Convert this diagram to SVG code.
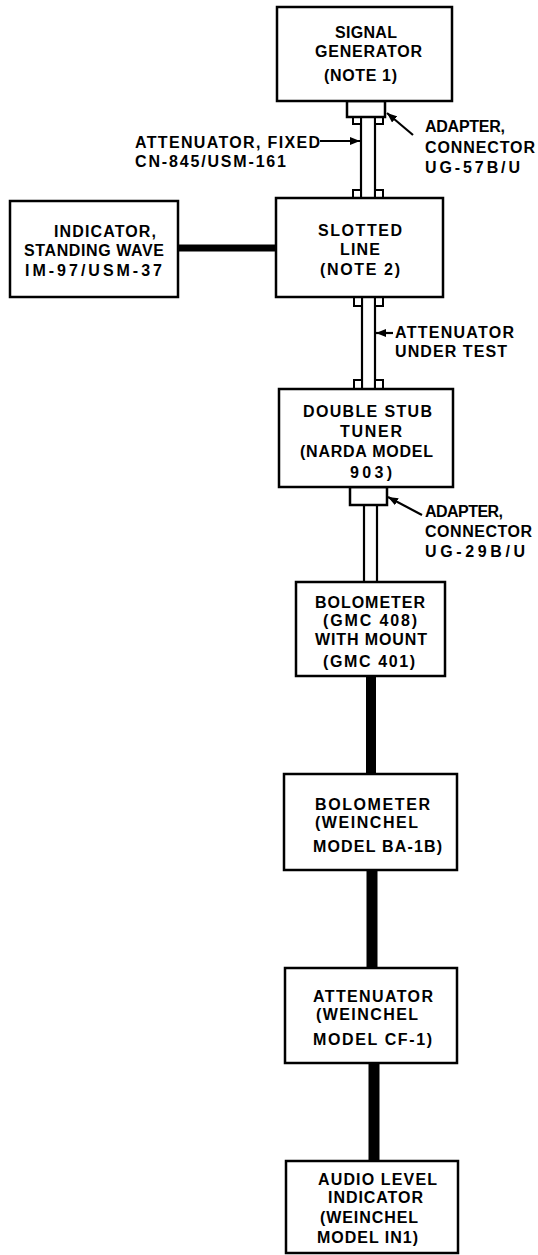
<svg xmlns="http://www.w3.org/2000/svg" width="538" height="1255" viewBox="0 0 538 1255">
<style>
.box{fill:#fff;stroke:#000;stroke-width:2.5}
.t{font-family:"Liberation Sans",Arial,sans-serif;font-weight:bold;font-size:16px;fill:#000}
.thick{stroke:#000;fill:none}
.thin{stroke:#000;stroke-width:2.2;fill:none}
.fl{fill:#fff;stroke:#000;stroke-width:2}
</style>
<defs>
<marker id="ah" markerUnits="userSpaceOnUse" markerWidth="10" markerHeight="8" refX="10" refY="4" orient="auto">
<path d="M0,0 L10,4 L0,8 z" fill="#000"/>
</marker>
</defs>
<rect width="538" height="1255" fill="#fff"/>

<g id="connectors">
<line class="thick" x1="178" y1="248" x2="276" y2="248" stroke-width="7"/>
<line class="thick" x1="371" y1="676" x2="371" y2="774" stroke-width="10"/>
<line class="thick" x1="372" y1="870" x2="372" y2="968" stroke-width="11"/>
<line class="thick" x1="374" y1="1063" x2="374" y2="1161" stroke-width="11"/>
<!-- coax: signal generator to slotted line -->
<line class="thin" x1="361" y1="117" x2="361" y2="198"/>
<line class="thin" x1="375" y1="117" x2="375" y2="198"/>
<rect class="fl" x="353" y="117" width="8" height="7"/>
<rect class="fl" x="375" y="117" width="8" height="7"/>
<rect class="fl" x="353" y="190" width="8" height="8"/>
<rect class="fl" x="375" y="190" width="8" height="8"/>
<rect class="box" x="347" y="101" width="38" height="16"/>
<!-- coax: slotted line to stub tuner (attenuator under test) -->
<line class="thin" x1="362" y1="297" x2="362" y2="389"/>
<line class="thin" x1="375" y1="297" x2="375" y2="389"/>
<rect class="fl" x="354" y="297" width="8" height="9"/>
<rect class="fl" x="375" y="297" width="8" height="9"/>
<rect class="fl" x="354" y="380" width="8" height="9"/>
<rect class="fl" x="375" y="380" width="8" height="9"/>
<!-- coax: stub tuner to bolometer -->
<rect class="box" x="350" y="487" width="37" height="18"/>
<line class="thin" x1="364" y1="505" x2="364" y2="582"/>
<line class="thin" x1="377" y1="505" x2="377" y2="582"/>
<!-- label arrows -->
<line class="thin" x1="320" y1="141" x2="360" y2="141" marker-end="url(#ah)"/>
<line class="thin" x1="413" y1="135" x2="387" y2="113" marker-end="url(#ah)"/>
<line class="thin" x1="393" y1="333" x2="376" y2="333" marker-end="url(#ah)"/>
<line class="thin" x1="422" y1="515" x2="388" y2="497" marker-end="url(#ah)"/>
</g>

<g id="signal-generator">
<rect class="box" x="277" y="7" width="175" height="94"/>
<text class="t" x="335" y="38" textLength="62" lengthAdjust="spacing">SIGNAL</text>
<text class="t" x="315" y="57" textLength="107" lengthAdjust="spacing">GENERATOR</text>
<text class="t" x="324" y="81" textLength="73" lengthAdjust="spacing">(NOTE 1)</text>
</g>

<g id="label-attenuator-fixed">
<text class="t" x="135" y="148" textLength="185" lengthAdjust="spacing">ATTENUATOR, FIXED</text>
<text class="t" x="135" y="167" textLength="151" lengthAdjust="spacing">CN-845/USM-161</text>
</g>

<g id="label-adapter-top">
<text class="t" x="425" y="132" textLength="80" lengthAdjust="spacing">ADAPTER,</text>
<text class="t" x="425" y="153" textLength="110" lengthAdjust="spacing">CONNECTOR</text>
<text class="t" x="425" y="173" textLength="95" lengthAdjust="spacing">UG-57B/U</text>
</g>

<g id="indicator-standing-wave">
<rect class="box" x="10" y="201" width="168" height="96"/>
<text class="t" x="54" y="237" textLength="102" lengthAdjust="spacing">INDICATOR,</text>
<text class="t" x="24" y="256" textLength="140" lengthAdjust="spacing">STANDING WAVE</text>
<text class="t" x="25" y="276" textLength="137" lengthAdjust="spacing">IM-97/USM-37</text>
</g>

<g id="slotted-line">
<rect class="box" x="276" y="198" width="167" height="99"/>
<text class="t" x="318" y="236" textLength="84" lengthAdjust="spacing">SLOTTED</text>
<text class="t" x="340" y="255" textLength="40" lengthAdjust="spacing">LINE</text>
<text class="t" x="320" y="275" textLength="80" lengthAdjust="spacing">(NOTE 2)</text>
</g>

<g id="label-attenuator-under-test">
<text class="t" x="395" y="338" textLength="119" lengthAdjust="spacing">ATTENUATOR</text>
<text class="t" x="395" y="357" textLength="112" lengthAdjust="spacing">UNDER TEST</text>
</g>

<g id="double-stub-tuner">
<rect class="box" x="279" y="389" width="174" height="98"/>
<text class="t" x="303" y="417" textLength="129" lengthAdjust="spacing">DOUBLE STUB</text>
<text class="t" x="340" y="437" textLength="62" lengthAdjust="spacing">TUNER</text>
<text class="t" x="300" y="457" textLength="133" lengthAdjust="spacing">(NARDA MODEL</text>
<text class="t" x="350" y="478" textLength="42" lengthAdjust="spacing">903)</text>
</g>

<g id="label-adapter-bottom">
<text class="t" x="425" y="517" textLength="78" lengthAdjust="spacing">ADAPTER,</text>
<text class="t" x="425" y="537" textLength="107" lengthAdjust="spacing">CONNECTOR</text>
<text class="t" x="425" y="557" textLength="100" lengthAdjust="spacing">UG-29B/U</text>
</g>

<g id="bolometer-gmc">
<rect class="box" x="296" y="582" width="149" height="94"/>
<text class="t" x="315" y="608" textLength="110" lengthAdjust="spacing">BOLOMETER</text>
<text class="t" x="323" y="626" textLength="94" lengthAdjust="spacing">(GMC 408)</text>
<text class="t" x="315" y="645" textLength="112" lengthAdjust="spacing">WITH MOUNT</text>
<text class="t" x="323" y="667" textLength="92" lengthAdjust="spacing">(GMC 401)</text>
</g>

<g id="bolometer-weinchel">
<rect class="box" x="284" y="774" width="173" height="96"/>
<text class="t" x="315" y="810" textLength="115" lengthAdjust="spacing">BOLOMETER</text>
<text class="t" x="315" y="828" textLength="103" lengthAdjust="spacing">(WEINCHEL</text>
<text class="t" x="313" y="852" textLength="129" lengthAdjust="spacing">MODEL BA-1B)</text>
</g>

<g id="attenuator-weinchel">
<rect class="box" x="285" y="968" width="172" height="95"/>
<text class="t" x="313" y="1002" textLength="120" lengthAdjust="spacing">ATTENUATOR</text>
<text class="t" x="316" y="1020" textLength="102" lengthAdjust="spacing">(WEINCHEL</text>
<text class="t" x="313" y="1045" textLength="119" lengthAdjust="spacing">MODEL CF-1)</text>
</g>

<g id="audio-level-indicator">
<rect class="box" x="286" y="1161" width="172" height="92"/>
<text class="t" x="318" y="1185" textLength="119" lengthAdjust="spacing">AUDIO LEVEL</text>
<text class="t" x="328" y="1203" textLength="95" lengthAdjust="spacing">INDICATOR</text>
<text class="t" x="320" y="1223" textLength="98" lengthAdjust="spacing">(WEINCHEL</text>
<text class="t" x="317" y="1243" textLength="101" lengthAdjust="spacing">MODEL IN1)</text>
</g>
</svg>
